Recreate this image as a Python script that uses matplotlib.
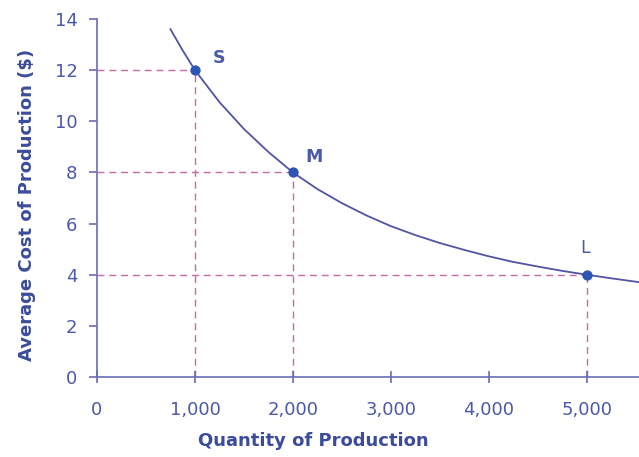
import matplotlib
matplotlib.use("Agg")
import matplotlib.pyplot as plt

# curve (quantity, average cost)
curve_q = [750, 875, 1000, 1250, 1500, 1750, 2000, 2250, 2500, 2750, 3000, 3250,
           3500, 3750, 4000, 4250, 4500, 4750, 5000, 5250, 5550]
curve_c = [13.6, 12.77, 12.0, 10.75, 9.7, 8.8, 8.0, 7.35, 6.8, 6.32, 5.9, 5.55,
           5.24, 4.97, 4.72, 4.5, 4.32, 4.15, 4.0, 3.86, 3.70]

# marked plant sizes
point_labels = ["S", "M", "L"]
point_q = [1000, 2000, 5000]
point_c = [12, 8, 4]
label_offsets = [(17, 9), (15, 11), (-1, 19)]   # points, for the letters
label_weights = ["bold", "bold", "normal"]

x_ticks = [0, 1000, 2000, 3000, 4000, 5000]
x_tick_labels = ["0", "1,000", "2,000", "3,000", "4,000", "5,000"]
y_ticks = [0, 2, 4, 6, 8, 10, 12, 14]

AXIS_COL = "#6b6db8"
TEXT_COL = "#4a59a8"
LABEL_COL = "#3b4c9c"
CURVE_COL = "#5153a3"
DOT_COL = "#2c55b4"
DASH_COL = "#c86aa8"

plt.rcParams["font.family"] = ["DejaVu Sans"]

fig = plt.figure(figsize=(6.39, 4.57), dpi=100)
ax = fig.add_axes([97 / 639, 1 - 377 / 457, 1 - 97 / 639, 358 / 457])

# dashed guide lines to both axes
for q, c in zip(point_q, point_c):
    ax.plot([0, q], [c, c], color=DASH_COL, lw=1.0, dashes=(5, 3.5), zorder=1)
    ax.plot([q, q], [0, c], color=DASH_COL, lw=1.0, dashes=(5, 3.5), zorder=1)

ax.plot(curve_q, curve_c, color=CURVE_COL, lw=1.3, zorder=2)
ax.scatter(point_q, point_c, s=55, color=DOT_COL, zorder=3, linewidths=0)

for lab, q, c, off, w in zip(point_labels, point_q, point_c, label_offsets, label_weights):
    ax.annotate(lab, (q, c), xytext=off, textcoords="offset points",
                ha="center", va="center", fontsize=12.5, color=TEXT_COL, fontweight=w)

ax.set_xlim(0, 5534)
ax.set_ylim(0, 14)
ax.set_xticks(x_ticks)
ax.set_xticklabels(x_tick_labels)
ax.set_yticks(y_ticks)

for side in ["top", "right"]:
    ax.spines[side].set_visible(False)
for side in ["left", "bottom"]:
    ax.spines[side].set_color(AXIS_COL)
    ax.spines[side].set_linewidth(1.2)

ax.tick_params(axis="y", direction="out", length=6, width=1.2, color=AXIS_COL,
               labelcolor=TEXT_COL, labelsize=13, pad=8)
ax.tick_params(axis="x", direction="inout", length=9, width=1.2, color=AXIS_COL,
               labelcolor=TEXT_COL, labelsize=13, pad=13)

ax.set_xlabel("Quantity of Production", fontsize=13, fontweight="bold",
              color=LABEL_COL)
ax.set_ylabel("Average Cost of Production ($)", fontsize=13, fontweight="bold",
              color=LABEL_COL)
ax.xaxis.set_label_coords(0.40, -0.155)
ax.yaxis.set_label_coords(-0.112, 0.48)

fig.savefig("out.png", dpi=100)
